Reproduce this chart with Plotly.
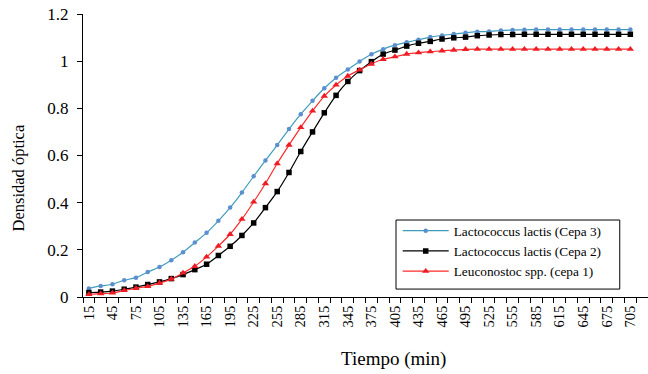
import plotly.graph_objects as go

tiempo = list(range(15, 706, 15))  # 47 points

cepa3 = [0.036, 0.047, 0.054, 0.071, 0.082, 0.106, 0.127, 0.156, 0.190, 0.231,
         0.272, 0.323, 0.379, 0.443, 0.512, 0.579, 0.644, 0.712, 0.775, 0.832,
         0.885, 0.930, 0.965, 0.999, 1.029, 1.051, 1.068, 1.080, 1.091, 1.102,
         1.109, 1.115, 1.120, 1.125, 1.126, 1.130, 1.132, 1.133, 1.134, 1.134,
         1.134, 1.134, 1.134, 1.134, 1.134, 1.134, 1.134]

cepa2 = [0.019, 0.021, 0.025, 0.033, 0.042, 0.053, 0.064, 0.078, 0.095, 0.116,
         0.139, 0.176, 0.215, 0.261, 0.314, 0.379, 0.447, 0.528, 0.617, 0.700,
         0.781, 0.855, 0.914, 0.960, 0.998, 1.030, 1.047, 1.064, 1.076, 1.084,
         1.094, 1.099, 1.102, 1.108, 1.111, 1.113, 1.113, 1.114, 1.114, 1.114,
         1.114, 1.114, 1.114, 1.114, 1.114, 1.114, 1.114]

cepa1 = [0.011, 0.014, 0.017, 0.028, 0.037, 0.045, 0.059, 0.076, 0.102, 0.130,
         0.170, 0.216, 0.266, 0.330, 0.403, 0.481, 0.566, 0.644, 0.719, 0.789,
         0.852, 0.899, 0.937, 0.963, 0.988, 1.008, 1.019, 1.030, 1.036, 1.040,
         1.044, 1.047, 1.050, 1.051, 1.051, 1.051, 1.051, 1.051, 1.051, 1.051,
         1.051, 1.051, 1.051, 1.051, 1.051, 1.051, 1.051]

x_ticks = list(range(15, 706, 30))
y_ticks = [0, 0.2, 0.4, 0.6, 0.8, 1, 1.2]
y_labels = ["0", "0.2", "0.4", "0.6", "0.8", "1", "1.2"]

FONT = "Times New Roman, Liberation Serif, serif"

fig = go.Figure()
fig.add_trace(go.Scatter(
    x=tiempo, y=cepa3, mode="lines+markers", name="Lactococcus lactis (Cepa 3)",
    line=dict(color="#3f9dbb", width=1.2, shape="spline", smoothing=0.6),
    marker=dict(symbol="circle", size=4.5, color="#5b8fd0")))
fig.add_trace(go.Scatter(
    x=tiempo, y=cepa2, mode="lines+markers", name="Lactococcus lactis (Cepa 2)",
    line=dict(color="#000000", width=1.2, shape="spline", smoothing=0.6),
    marker=dict(symbol="square", size=5.5, color="#000000")))
fig.add_trace(go.Scatter(
    x=tiempo, y=cepa1, mode="lines+markers", name="Leuconostoc spp. (cepa 1)",
    line=dict(color="#ff2a2a", width=1.2, shape="spline", smoothing=0.6),
    marker=dict(symbol="triangle-up", size=6.5, color="#ee1c24")))

fig.update_layout(
    width=648, height=374,
    margin=dict(l=83, r=0, t=14, b=77),
    paper_bgcolor="white", plot_bgcolor="white",
    font=dict(family=FONT, size=14, color="black"),
    showlegend=True,
    legend=dict(
        x=0.557, y=0.288, xanchor="left", yanchor="top",
        bgcolor="rgba(0,0,0,0)", borderwidth=0,
        font=dict(family=FONT, size=13.3, color="black"),
        tracegroupgap=0, itemwidth=46,
    ),
    shapes=[dict(type="rect", xref="paper", yref="paper",
                 x0=0.554, x1=0.950, y0=0.028, y1=0.272,
                 line=dict(color="black", width=1), fillcolor="white",
                 layer="below")],
    xaxis=dict(
        range=[7.5, 727.5], showgrid=False, zeroline=False, automargin=False,
        showline=True, linecolor="black", linewidth=1,
        tickmode="array", tickvals=x_ticks, ticktext=[str(v) for v in x_ticks],
        ticks="", tickangle=-90, tickfont=dict(family=FONT, size=14.5),
        ticklabelstandoff=2,
        minor=dict(tickmode="linear", tick0=7.5, dtick=15, ticks="outside",
                   ticklen=5, tickcolor="black", tickwidth=1, showgrid=False),
    ),
    yaxis=dict(
        range=[0, 1.2], showgrid=False, zeroline=False, automargin=False,
        showline=True, linecolor="black", linewidth=1,
        tickmode="array", tickvals=y_ticks, ticktext=y_labels,
        ticks="outside", ticklen=5, tickcolor="black",
        tickfont=dict(family=FONT, size=17), ticklabelstandoff=5,
    ),
    annotations=[
        dict(text="Densidad óptica", xref="paper", yref="paper",
             x=(18 - 83) / 565, y=(297 - 178.5) / 283,
             xanchor="center", yanchor="middle",
             textangle=-90, showarrow=False, font=dict(family=FONT, size=16.5)),
        dict(text="Tiempo (min)", xref="paper", yref="paper",
             x=(393.5 - 83) / 565, y=(297 - 359) / 283,
             xanchor="center", yanchor="middle",
             showarrow=False, font=dict(family=FONT, size=19)),
    ],
)

fig.write_html(
    "out.html",
    config={"displayModeBar": False},
    post_script="document.body.style.margin='0';document.body.style.overflow='hidden';",
)
